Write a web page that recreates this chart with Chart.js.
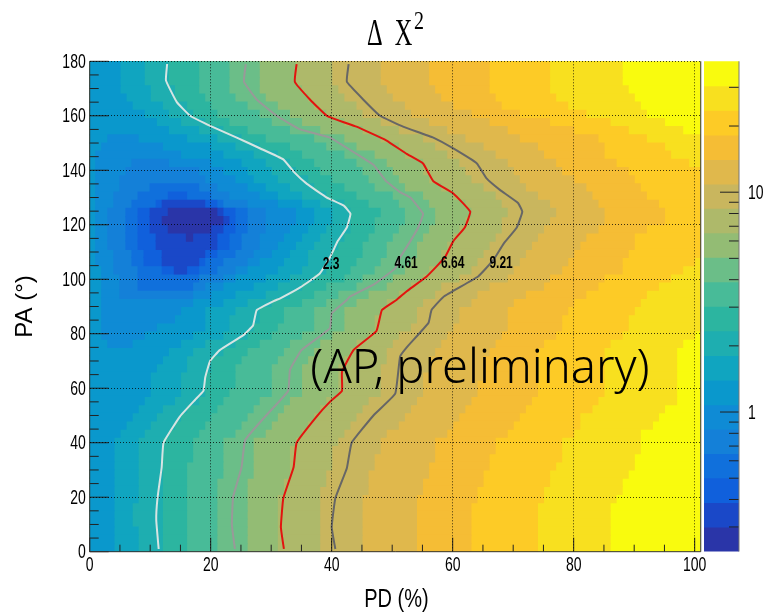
<!DOCTYPE html>
<html>
<head>
<meta charset="utf-8">
<title>Delta chi2</title>
<script src="https://cdn.jsdelivr.net/npm/chart.js@4"></script>
<style>
html, body { margin: 0; padding: 0; background: #fff; }
#wrap { position: relative; width: 769px; height: 613px; overflow: hidden; }
#mainChart { position: absolute; left: 0; top: 0; }
#barChart { position: absolute; left: 690px; top: 0; }
</style>
</head>
<body>
<div id="wrap">
<canvas id="mainChart" width="769" height="613"></canvas>
<canvas id="barChart" width="79" height="613"></canvas>
</div>
<script>
// PA value at the centre of each map row, top to bottom
const rowPA = [178.5,175.5,172.5,169.5,166.5,163.5,160.5,157.5,154.5,151.5,148.5,145.5,142.5,139.5,136.5,133.5,130.5,127.5,124.5,121.5,118.5,115.5,112.5,109.5,106.5,103.5,100.5,97.5,94.5,91.5,88.5,85.5,82.5,79.5,76.5,73.5,70.5,67.5,64.5,61.5,58.5,55.5,52.5,49.5,46.5,43.5,40.5,37.5,34.5,31.5,28.5,25.5,22.5,19.5,16.5,13.5,10.5,7.5,4.5,1.5];

// Palette of the 20 colour bands, top of the colour bar first
const bandColors = ['#f9fb0e','#f8e01f','#fdcb26','#f5bd35','#e0b84c','#c9b65e','#aeb96a','#93bc74','#6bbe88','#48bb98','#2cb5a0','#1eaeb0','#10a5c0','#0a98cc','#0f8bd5','#1480d8','#1070dc','#1060dc','#1a48c8','#2a35a8'];

// PD where each band ends on each row (bands 2 to 14)
const edge2 = [88,88,88,89,90,91,92,95,98,101,101,101,101,101,101,101,101,101,101,101,101,101,101,101,101,101,101,101,101,101,101,101,101,100,98,97,97,97,97,97,97,97,95,94,93,91,91,91,90,90,89,88,88,87,86,86,86,86,86,86];
const edge3 = [76,76,76,76,77,79,82,86,89,92,95,96,99,101,101,101,101,101,101,101,101,101,101,101,100,98,96,94,92,91,90,89,89,88,86,85,85,85,85,85,85,84,83,81,81,80,78,78,78,77,76,76,75,75,74,74,74,74,74,74];
const edge4 = [66,66,66,66,67,68,71,76,80,84,85,85,87,89,90,91,92,94,95,95,92,90,90,89,88,88,85,84,82,80,79,78,78,77,75,74,74,74,74,74,74,73,72,71,70,69,67,67,66,66,65,65,64,64,63,63,63,63,63,63];
const edge5 = [56,56,56,57,58,60,63,66,69,71,74,75,77,78,80,82,83,84,85,85,84,82,81,80,79,78,76,75,72,70,69,69,69,68,67,66,65,65,65,64,64,63,62,61,60,59,57,57,57,56,56,55,55,54,54,54,54,54,54,54];
const edge6 = [48,48,48,49,50,52,53,56,59,62,65,67,69,70,71,72,74,76,77,76,75,74,73,72,71,70,69,66,64,63,61,61,60,59,58,57,56,56,55,55,55,54,53,52,51,49,48,48,47,47,46,46,46,45,45,45,45,45,45,45];
const edge7 = [40,40,40,41,42,44,45,48,51,55,57,59,61,62,63,65,67,68,69,68,68,67,66,65,64,63,61,58,57,55,54,54,53,51,50,49,49,48,48,48,48,46,45,44,43,42,41,40,40,40,39,39,38,38,38,38,38,38,38,38];
const edge8 = [34,34,34,35,36,37,39,42,45,48,51,52,55,55,56,58,60,62,63,62,61,60,59,58,58,56,55,53,51,49,48,47,47,46,44,43,42,41,41,41,41,39,38,37,36,35,34,33,33,33,33,32,32,31,31,31,31,31,31,31];
const edge9 = [28,28,28,28,29,31,33,35,38,42,44,47,49,50,51,52,55,56,57,57,56,55,54,54,53,52,50,49,46,44,42,42,42,40,38,37,36,35,35,35,35,33,32,31,30,29,27,27,27,27,27,26,26,26,26,26,26,26,26,26];
const edge10 = [23,23,23,23,24,26,28,30,33,37,39,42,44,45,46,47,50,51,52,52,51,50,49,49,48,47,45,44,41,39,37,37,37,35,33,32,31,30,30,30,30,28,27,26,25,24,22,22,22,22,22,21,21,21,21,21,21,21,21,21];
const edge11 = [18,18,18,18,19,20,21,23,26,29,33,35,37,38,40,42,44,46,48,47,47,46,45,45,44,43,42,39,37,35,32,32,31,30,28,26,25,24,24,24,23,22,21,20,19,18,17,17,17,16,16,16,16,16,16,16,16,16,16,16];
const edge12 = [13,13,13,14,14,16,17,19,22,25,28,31,33,34,36,37,39,42,43,43,43,42,41,40,40,39,37,35,33,30,28,28,27,26,24,22,20,20,19,19,19,18,16,15,14,13,12,12,12,12,12,12,12,12,12,12,12,12,12,12];
const edge13 = [9,9,9,10,10,12,13,15,18,21,24,27,29,30,31,33,35,38,40,40,39,38,37,36,36,35,33,31,29,26,24,23,23,22,19,17,16,16,15,15,15,14,12,11,10,9,8,8,8,8,8,8,8,8,7,7,7,8,8,8];
const edge14 = [5,5,5,5,6,7,9,11,13,16,20,22,25,26,27,29,31,35,37,37,36,35,34,33,32,31,29,27,24,22,19,19,19,17,15,13,12,11,10,10,10,9,8,7,6,5,4,4,4,4,4,4,4,4,4,4,4,4,4,4];
const bandEdges = [edge2,edge3,edge4,edge5,edge6,edge7,edge8,edge9,edge10,edge11,edge12,edge13,edge14];

// Closed patches around the minimum: rows, left and right PD
const band15Rows = [151.5,148.5,145.5,142.5,139.5,136.5,133.5,130.5,127.5,124.5,121.5,118.5,115.5,112.5,109.5,106.5,103.5,100.5,97.5,94.5,91.5,88.5,85.5,82.5,79.5,76.5];
const band15Left = [3,2,1,1,1,1,1,1,1,1,1,1,1,1,1,1,2,2,2,2,2,2,2,2,2,3];
const band15Right = [8,12,15,20,22,24,26,28,31,34,34,33,32,31,30,28,26,24,22,20,17,15,14,11,9,7];
const band16Rows = [142.5,139.5,136.5,133.5,130.5,127.5,124.5,121.5,118.5,115.5,112.5,109.5,106.5,103.5,100.5,97.5,94.5];
const band16Left = [7,6,5,5,4,4,3,3,3,3,3,4,4,4,5,5,5];
const band16Right = [13,18,19,21,23,26,29,29,29,28,28,27,26,24,22,19,17];
const band17Rows = [133.5,130.5,127.5,124.5,121.5,118.5,115.5,112.5,109.5,106.5,103.5,100.5,97.5];
const band17Left = [10,8,7,6,6,6,6,6,7,7,8,8,8];
const band17Right = [18,20,22,26,26,26,25,25,24,22,21,18,17];
const band18Rows = [130.5,127.5,124.5,121.5,118.5,115.5,112.5,109.5,106.5,103.5];
const band18Left = [13,11,8,8,8,8,8,9,9,12];
const band18Right = [16,21,24,24,24,23,23,21,19,18];
const band19Rows = [127.5,124.5,121.5,118.5,115.5,112.5,109.5,106.5,103.5];
const band19Left = [12,10,10,10,11,11,12,12,14];
const band19Right = [19,22,23,22,21,21,19,18,16];
const band20Rows = [124.5,121.5,118.5,115.5];
const band20Left = [13,12,13,16];
const band20Right = [21,22,20,17];

// Contour lines
const contour23PD = [12.8,12.6,14.4,16.6,20.2,24.3,28.2,32,33.7,35.9,39.2,42,43.1,42.5,41,39.7,38,34.8,31.5,30.4,27.6,27,25.4,21.5,19.9,19.1,18.8,17.4,14.9,12.2,11.9,11.2,11,11.4];
const contour23PA = [179,173,165,160,156,152,148,144,139.5,135,130,127,124,119,114,108,102,97,93,92,88.7,83,79.5,74,70,64,59,55.7,49.6,40,31,19.6,11.6,1];
const contour461PD = [25.8,25.5,27.6,30.9,34.8,39.7,44.1,46.9,49,51.3,53,55.1,54.3,53,51.3,50.5,46.9,43,42.5,40,39.7,35,33.1,32.8,29,25.7,25.1,23.7,23.5,24];
const contour461PA = [179,172.5,166,160,155,152,146,142,136,132,130,124,119,114,108,104,98,93.6,92.4,87.5,82,74,66.7,59,49.6,41,31,20,10,1];
const contour664PD = [34.2,33.9,36.4,39.2,44.1,49,52.4,55.1,56.8,60.1,62.9,62,60.1,58.7,55.7,52.4,50.7,48.3,47.4,43.6,41.7,41.7,39.7,37.5,34.2,33.7,32,31.6,32.1];
const contour664PA = [179,172.5,166,160,156,151,146,142.5,136,131.5,124.8,119,114,108,101,95.6,92.4,88.7,81,74,66,59,55,49.6,40,31,19.6,9,1];
const contour921PD = [42.8,42.5,45.2,48,51.8,56.8,60.1,64,65.6,67.8,70.8,71.5,70.6,68.4,66.7,64.2,58.5,56.5,56,52.4,51.3,50.5,46.9,43.3,42.5,40.6,40,40.6];
const contour921PA = [179,172.5,166,160,156,152,148,142.5,137,132.8,128,124.8,119,113,107,101,93.6,88.7,84,75,71.6,58,50,40,30.6,19.6,9,1];

const contourLabels = ['2.3','4.61','6.64','9.21'];
const contourLabelPD = [39.9,52.3,60,68];
const contourLabelPA = [105.2,105.7,105.7,105.7];

// Colour bar: band limits on the log scale, ticks
const barLevels = [39.4,30.5,23.6,18.2,14.1,10.9,8.45,6.54,5.06,3.91,3.03,2.34,1.81,1.40,1.08,0.838,0.648,0.502,0.388,0.300,0.232];
const barTicks = [30,20,10,9,8,7,6,5,4,3,2,1,0.9,0.8,0.7,0.6,0.5,0.4,0.3];

const sansFont = '"Liberation Sans", sans-serif';
const serifFont = '"Liberation Serif", serif';

// The labels of the reference are squeezed sideways
function narrowText(ctx, text, x, y, scaleX, align) {
    ctx.save();
    ctx.translate(x, y);
    ctx.scale(scaleX, 1);
    ctx.textAlign = align;
    ctx.fillText(text, 0, 0);
    ctx.restore();
}

// One dataset per band, later bands painted on top of earlier ones
function makeBand(color, rows, left, right, order) {
    return {
        type: 'bar',
        backgroundColor: color,
        borderWidth: 0,
        inflateAmount: 0.6,
        barPercentage: 1,
        categoryPercentage: 1,
        grouped: false,
        order: order,
        data: rows.map((pa, i) => ({ x: [Array.isArray(left) ? left[i] : left, right[i]], y: pa }))
    };
}

const datasets = [];

datasets.push(makeBand(bandColors[0], rowPA, 0, rowPA.map(() => 101), 100));

bandEdges.forEach((edge, i) => {
    datasets.push(makeBand(bandColors[i + 1], rowPA, 0, edge, 99 - i));
});

datasets.push(makeBand(bandColors[14], band15Rows, band15Left, band15Right, 50));
datasets.push(makeBand(bandColors[15], band16Rows, band16Left, band16Right, 49));
datasets.push(makeBand(bandColors[16], band17Rows, band17Left, band17Right, 48));
datasets.push(makeBand(bandColors[17], band18Rows, band18Left, band18Right, 47));
datasets.push(makeBand(bandColors[18], band19Rows, band19Left, band19Right, 46));
datasets.push(makeBand(bandColors[19], band20Rows, band20Left, band20Right, 45));

function makeContour(pd, pa, color) {
    return {
        type: 'scatter',
        indexAxis: 'x',
        showLine: true,
        pointRadius: 0,
        borderColor: color,
        borderWidth: 2,
        tension: 0.1,
        order: 1,
        data: pd.map((x, i) => ({ x: x, y: pa[i] }))
    };
}

datasets.push(makeContour(contour23PD, contour23PA, '#d6e4e2'));
datasets.push(makeContour(contour461PD, contour461PA, '#999999'));
datasets.push(makeContour(contour664PD, contour664PA, '#e2140f'));
datasets.push(makeContour(contour921PD, contour921PA, '#666666'));

// ROOT style ticks pointing into the plot, frame and all the text
const mainDecor = {
    id: 'mainDecor',
    afterDatasetsDraw(chart) {
        const ctx = chart.ctx;
        const area = chart.chartArea;
        const x = chart.scales.x;
        const y = chart.scales.y;

        ctx.save();
        ctx.strokeStyle = '#222';
        ctx.lineWidth = 1;
        ctx.beginPath();

        x.ticks.forEach(t => {
            const px = x.getPixelForValue(t.value);
            const len = t.value % 20 === 0 ? 14 : 7;
            ctx.moveTo(px, area.bottom);
            ctx.lineTo(px, area.bottom - len);
        });

        y.ticks.forEach(t => {
            const py = y.getPixelForValue(t.value);
            const len = t.value % 20 === 0 ? 19 : 9;
            ctx.moveTo(area.left, py);
            ctx.lineTo(area.left + len, py);
        });

        ctx.stroke();

        // frame, the top side is only the dotted grid line
        ctx.strokeStyle = '#333';
        ctx.beginPath();
        ctx.moveTo(area.left, area.top);
        ctx.lineTo(area.left, area.bottom);
        ctx.lineTo(area.right, area.bottom);
        ctx.lineTo(area.right, area.top);
        ctx.stroke();

        ctx.fillStyle = '#000';
        ctx.textBaseline = 'middle';

        // tick labels
        ctx.font = '20px ' + sansFont;
        x.ticks.forEach(t => {
            if (t.value % 20 === 0) {
                narrowText(ctx, String(t.value), x.getPixelForValue(t.value), area.bottom + 14, 0.7, 'center');
            }
        });
        y.ticks.forEach(t => {
            if (t.value % 20 === 0) {
                narrowText(ctx, String(t.value), area.left - 4, y.getPixelForValue(t.value) + 1, 0.7, 'right');
            }
        });

        // contour labels
        ctx.font = 'bold 16px ' + sansFont;
        contourLabels.forEach((label, i) => {
            narrowText(ctx, label, x.getPixelForValue(contourLabelPD[i]), y.getPixelForValue(contourLabelPA[i]), 0.75, 'center');
        });

        // note on top of the map
        ctx.textAlign = 'center';
        ctx.font = '300 47px "Noto Sans", sans-serif';
        ctx.fillText('(AP, preliminary)', x.getPixelForValue(64.5), y.getPixelForValue(67));

        // x axis title
        ctx.font = '25px ' + sansFont;
        narrowText(ctx, 'PD (%)', 396.5, 600, 0.8, 'center');

        // chart title, with the exponent set by hand
        ctx.textBaseline = 'alphabetic';
        ctx.font = '38px ' + serifFont;
        narrowText(ctx, 'Δ  X', 367, 45, 0.64, 'left');
        ctx.font = '25px ' + serifFont;
        narrowText(ctx, '2', 414, 29, 0.8, 'left');

        ctx.restore();
    }
};

new Chart(document.getElementById('mainChart').getContext('2d'), {
    type: 'bar',
    data: { datasets: datasets },
    plugins: [mainDecor],
    options: {
        indexAxis: 'y',
        responsive: false,
        animation: false,
        layout: { padding: { left: 0, right: 68.25, top: 61.3, bottom: 0 } },
        plugins: {
            legend: { display: false },
            tooltip: { enabled: false }
        },
        scales: {
            x: {
                type: 'linear',
                min: 0,
                max: 101,
                afterFit: s => { s.height = 61.3; },
                border: { display: false, dash: [1, 2] },
                grid: {
                    z: 1,
                    drawTicks: false,
                    color: c => (c.tick && c.tick.value % 20 === 0 && c.tick.value > 0 ? 'rgba(0,0,0,0.75)' : 'transparent'),
                    lineWidth: 1
                },
                ticks: {
                    display: false,
                    stepSize: 5,
                    autoSkip: false,
                    includeBounds: false
                }
            },
            y: {
                type: 'linear',
                min: 0,
                max: 180,
                offset: false,
                afterFit: s => { s.width = 89.7; },
                border: { display: false, dash: [1, 2] },
                grid: {
                    z: 1,
                    offset: false,
                    drawTicks: false,
                    color: c => (c.tick && c.tick.value % 20 === 0 && c.tick.value > 0 ? 'rgba(0,0,0,0.75)' : 'transparent'),
                    lineWidth: 1
                },
                ticks: {
                    display: false,
                    stepSize: 5,
                    autoSkip: false
                },
                title: {
                    display: true,
                    text: 'PA (°)',
                    color: '#000',
                    font: { family: sansFont, size: 24 },
                    padding: { top: 11, bottom: 0 }
                }
            }
        }
    }
});

const barDecor = {
    id: 'barDecor',
    afterDatasetsDraw(chart) {
        const ctx = chart.ctx;
        const area = chart.chartArea;
        const y = chart.scales.y;

        ctx.save();
        ctx.strokeStyle = '#222';
        ctx.lineWidth = 1;
        ctx.beginPath();
        barTicks.forEach(v => {
            const py = y.getPixelForValue(v);
            const len = (v === 1 || v === 10) ? 19 : 10;
            ctx.moveTo(area.right, py);
            ctx.lineTo(area.right - len, py);
        });
        ctx.stroke();

        ctx.strokeStyle = '#777';
        ctx.beginPath();
        ctx.moveTo(area.right, area.top);
        ctx.lineTo(area.right, area.bottom);
        ctx.stroke();

        ctx.fillStyle = '#000';
        ctx.textBaseline = 'middle';
        ctx.font = '20px ' + sansFont;
        narrowText(ctx, '10', area.right + 9, y.getPixelForValue(10) + 1, 0.7, 'left');
        narrowText(ctx, '1', area.right + 9, y.getPixelForValue(1) + 1, 0.7, 'left');

        ctx.restore();
    }
};

new Chart(document.getElementById('barChart').getContext('2d'), {
    type: 'bar',
    data: {
        labels: ['Δχ²'],
        datasets: bandColors.map((color, i) => ({
            data: [[barLevels[i + 1], barLevels[i]]],
            backgroundColor: color,
            borderWidth: 0,
            inflateAmount: 0.5,
            barPercentage: 1,
            categoryPercentage: 1,
            grouped: false
        }))
    },
    plugins: [barDecor],
    options: {
        responsive: false,
        animation: false,
        layout: { padding: { left: 14, right: 0, top: 61.3, bottom: 61.5 } },
        plugins: {
            legend: { display: false },
            tooltip: { enabled: false }
        },
        scales: {
            x: { display: false },
            y: {
                type: 'logarithmic',
                position: 'right',
                min: 0.232,
                max: 39.4,
                afterFit: s => { s.width = 30; },
                border: { display: false },
                grid: { display: false, drawTicks: false },
                ticks: { display: false }
            }
        }
    }
});
</script>
</body>
</html>
